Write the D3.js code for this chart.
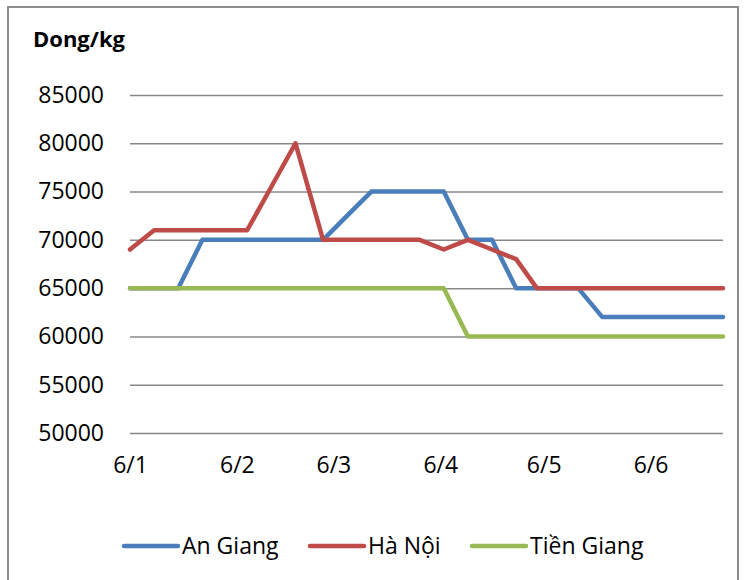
<!DOCTYPE html>
<html lang="vi">
<head>
<meta charset="utf-8">
<script src="https://cdn.jsdelivr.net/npm/d3@7"></script>
<style>
  body { margin: 0; background: #fff; }
  text { font-family: "Open Sans", "Noto Sans", sans-serif; }
</style>
</head>
<body>
<div id="chart"></div>
<script>
const dates = ["2011-01-06","2011-01-13","2011-01-20","2011-01-27","2011-02-03","2011-02-09",
               "2011-02-16","2011-02-23","2011-03-03","2011-03-10","2011-03-17","2011-03-24",
               "2011-03-31","2011-04-07","2011-04-14","2011-04-21","2011-04-28","2011-05-04",
               "2011-05-11","2011-05-16","2011-05-23","2011-05-30","2011-06-06","2011-06-13",
               "2011-06-20","2011-06-27"];
const anGiang   = [65000,65000,65000,70000,70000,70000,70000,70000,70000,72500,75000,75000,
                   75000,75000,70000,70000,65000,65000,65000,65000,62000,62000,62000,62000,62000,62000];
const haNoi     = [69000,71000,71000,71000,71000,71000,75500,80000,70000,70000,70000,70000,
                   70000,69000,70000,69000,68000,65000,65000,65000,65000,65000,65000,65000,65000,65000];
const tienGiang = [65000,65000,65000,65000,65000,65000,65000,65000,65000,65000,65000,65000,
                   65000,65000,60000,60000,60000,60000,60000,60000,60000,60000,60000,60000,60000,60000];
const seriesNames = ["An Giang", "Hà Nội", "Tiền Giang"];
const tickDates = ["2011-01-06","2011-02-06","2011-03-06","2011-04-06","2011-05-06","2011-06-06"];
const yTicks = [50000, 55000, 60000, 65000, 70000, 75000, 80000, 85000];

const colors = ["#4A7EBB", "#BE4B48", "#98B954"];
const parse = d3.timeParse("%Y-%m-%d");

const W = 744, H = 580;
const margin = {top: 95, right: 21, bottom: 147, left: 130};
const width = W - margin.left - margin.right;
const height = H - margin.top - margin.bottom;

const svg = d3.select("#chart").append("svg")
    .attr("width", W).attr("height", H);

// outer chart border
svg.append("rect")
    .attr("x", 8).attr("y", 7).attr("width", 730).attr("height", 580)
    .attr("fill", "none").attr("stroke", "#8c8c8c").attr("stroke-width", 2);

const g = svg.append("g").attr("transform", `translate(${margin.left},${margin.top})`);

const x = d3.scaleTime()
    .domain(d3.extent(dates, parse))
    .range([0, width]);
const y = d3.scaleLinear()
    .domain([50000, 85000])
    .range([height, 0]);

// y axis + gridlines
const yAx = g.append("g")
    .call(d3.axisLeft(y).tickValues(yTicks).tickSize(-width).tickPadding(26).tickFormat(d3.format("d")));
yAx.select(".domain").remove();
yAx.selectAll("line").attr("stroke", "#888").attr("stroke-width", 1.5);
yAx.selectAll("text").attr("font-size", "23px").attr("fill", "#000").attr("font-family", null);

// x axis labels
const xAx = g.append("g")
    .attr("transform", `translate(0,${height})`)
    .call(d3.axisBottom(x).tickValues(tickDates.map(parse)).tickSize(0).tickPadding(24)
            .tickFormat(d3.timeFormat("%-d/%-m")));
xAx.select(".domain").remove();
xAx.selectAll("text").attr("font-size", "23px").attr("fill", "#000").attr("font-family", null);

// series lines
const series = [anGiang, haNoi, tienGiang];
const line = d3.line()
    .x((d, i) => x(parse(dates[i])))
    .y(d => y(d));

series.forEach((vals, k) => {
  g.append("path")
    .datum(vals)
    .attr("d", line)
    .attr("fill", "none")
    .attr("stroke", colors[k])
    .attr("stroke-width", 4.5)
    .attr("stroke-linejoin", "round")
    .attr("stroke-linecap", "round");
});

// axis title
svg.append("text")
    .attr("x", 33).attr("y", 47)
    .attr("font-size", "22px").attr("font-weight", "bold")
    .text("Dong/kg");

// legend
const legendX = [124, 310, 472];
const leg = svg.append("g");
seriesNames.forEach((name, k) => {
  leg.append("line")
    .attr("x1", legendX[k]).attr("x2", legendX[k] + 54)
    .attr("y1", 546).attr("y2", 546)
    .attr("stroke", colors[k]).attr("stroke-width", 4.5).attr("stroke-linecap", "round");
  leg.append("text")
    .attr("x", legendX[k] + 58).attr("y", 554)
    .attr("font-size", "23px")
    .text(name);
});
</script>
</body>
</html>
